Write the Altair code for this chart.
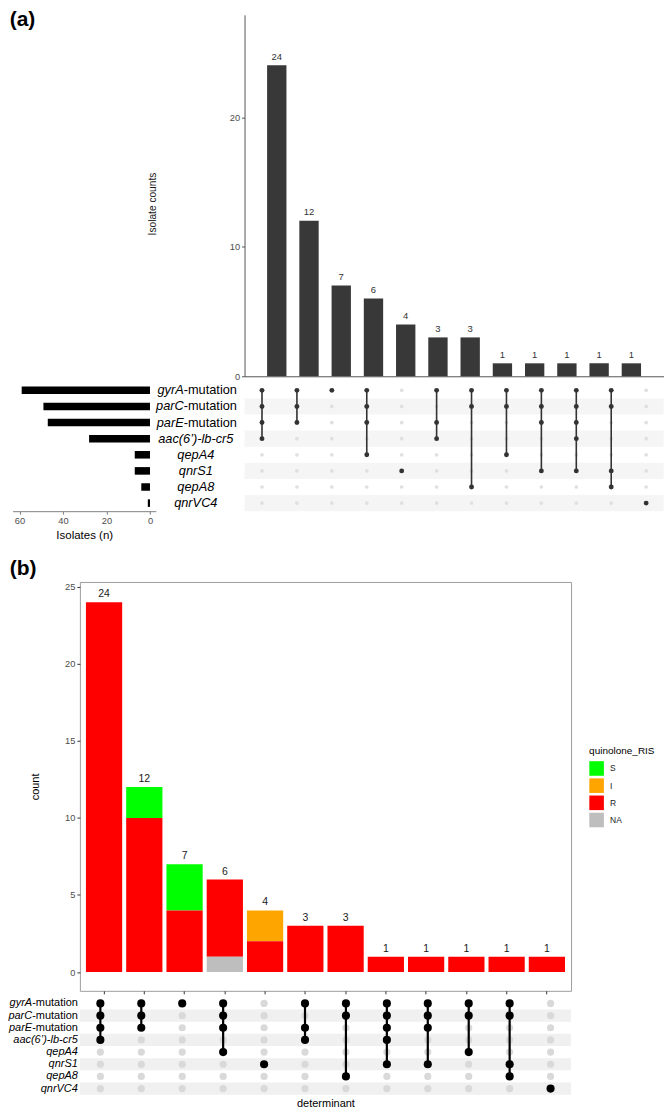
import altair as alt
import pandas as pd

# ---------------- data ----------------
GENES = ["gyrA-mutation", "parC-mutation", "parE-mutation", "aac(6’)-lb-cr5",
         "qepA4", "qnrS1", "qepA8", "qnrVC4"]
GENE_ITALIC = ["gyrA", "parC", "parE", "aac(6’)-lb-cr5", "qepA4", "qnrS1", "qepA8", "qnrVC4"]
GENE_SUFFIX = ["-mutation", "-mutation", "-mutation", "", "", "", "", ""]
SET_SIZES = [59, 49, 47, 28, 7, 7, 4, 1]

COLUMNS = ["c01", "c02", "c03", "c04", "c05", "c06", "c07", "c08", "c09", "c10", "c11", "c12"]
A_COUNTS = [24, 12, 7, 6, 4, 3, 3, 1, 1, 1, 1, 1]
A_MEMBERS = [[0, 1, 2, 3], [0, 1, 2], [0], [0, 1, 2, 4], [5], [0, 2, 3], [0, 1, 6],
             [0, 1, 4], [0, 1, 2, 5], [0, 1, 2, 3, 5], [0, 1, 5, 6], [7]]
B_MEMBERS = [[0, 1, 2, 3], [0, 1, 2], [0], [0, 1, 2, 4], [5], [0, 2, 3], [0, 1, 6],
             [0, 1, 2, 3, 5], [0, 1, 2, 5], [0, 1, 4], [0, 1, 5, 6], [7]]

RIS_LEVELS = ["S", "I", "R", "NA"]
RIS_COLORS = ["#00ff00", "#ffa500", "#ff0000", "#bebebe"]
RIS_STACK_ORDER = [3, 2, 1, 0]
B_S = [0, 2, 3, 0, 0, 0, 0, 0, 0, 0, 0, 0]
B_I = [0, 0, 0, 0, 2, 0, 0, 0, 0, 0, 0, 0]
B_R = [24, 10, 4, 5, 2, 3, 3, 1, 1, 1, 1, 1]
B_NA = [0, 0, 0, 1, 0, 0, 0, 0, 0, 0, 0, 0]

PANEL_LABELS = ["(a)", "(b)"]

# ---------------- layout constants (pixels) ----------------
FONT = "Liberation Sans"
WA = 584.6
XA0, XA1 = 164.9, 584.6
H_A1 = 362
H_A2 = 129.1
H_SP = 57.7
WB = 491.9
H_B1 = 409.5
H_B2 = 97.5
GAP = 6
B1_TOP = H_A1 + GAP + H_A2 + GAP + H_SP + GAP

# ---------------- tables ----------------
dfA = pd.DataFrame({"col": COLUMNS, "count": A_COUNTS})


def matrix_df(members):
    rows = []
    for i, c in enumerate(COLUMNS):
        for j, g in enumerate(GENES):
            rows.append({"col": c, "gene": g, "gidx": j, "active": j in members[i]})
    return pd.DataFrame(rows)


mA = matrix_df(A_MEMBERS)
mB = matrix_df(B_MEMBERS)
df_genes = pd.DataFrame({"gene": GENES, "ital": GENE_ITALIC, "suf": GENE_SUFFIX,
                         "size": SET_SIZES, "stripe": [i % 2 == 1 for i in range(len(GENES))]})
df_mut = df_genes[df_genes["suf"] != ""]
df_plain = df_genes[df_genes["suf"] == ""]
df_stripe = df_genes[df_genes["stripe"]]

recs = []
for lvl, vals, o in zip(RIS_LEVELS, [B_S, B_I, B_R, B_NA], RIS_STACK_ORDER):
    for c, v in zip(COLUMNS, vals):
        if v > 0:
            recs.append({"col": c, "RIS": lvl, "n": v, "ord": o})
dfB = pd.DataFrame(recs)
dfB_tot = pd.DataFrame({"col": COLUMNS,
                        "total": [s + i + r + na for s, i, r, na in zip(B_S, B_I, B_R, B_NA)]})

# ---------------- panel (a): bars ----------------
scaleA = alt.Scale(domain=COLUMNS, range=[XA0, XA1], paddingInner=0.4, paddingOuter=0.7)
xA1 = alt.X("col:N", scale=scaleA, sort=COLUMNS,
            axis=alt.Axis(labels=False, ticks=False, title=None, domain=True,
                          domainColor="#555555", domainWidth=1))
yA1 = alt.Y("count:Q", scale=alt.Scale(domain=[0, 27.9], nice=False, zero=True),
            axis=alt.Axis(values=[0, 10, 20], offset=-XA0, title="Isolate counts",
                          titleX=-87, titleY=189, titleFontSize=10.2, titleFontWeight="normal",
                          titleColor="#1a1a1a", labelFontSize=9.3, labelColor="#4d4d4d",
                          tickColor="#555555", tickSize=3, domainColor="#555555", grid=False))
barsA = alt.Chart(dfA).mark_bar(color="#383838").encode(x=xA1, y=yA1)
textA = alt.Chart(dfA).mark_text(dy=-8.5, fontSize=9.5, color="#333333", baseline="middle").encode(
    x=xA1, y=yA1, text="count:Q")
labA = alt.Chart(pd.DataFrame({"lab": [PANEL_LABELS[0]]})).mark_text(
    align="left", baseline="middle", fontSize=21, fontWeight="bold", color="black").encode(
    x=alt.value(-70.3), y=alt.value(5.5), text="lab:N")
A1 = alt.layer(barsA, textA, labA).properties(width=WA, height=H_A1)

# ---------------- panel (a): matrix + set sizes ----------------
yA2 = alt.Y("gene:N", scale=alt.Scale(domain=GENES, paddingInner=0, paddingOuter=0), sort=GENES, axis=None)
xA2 = alt.X("col:N", scale=scaleA, sort=COLUMNS, axis=None)

stripesA = alt.Chart(df_stripe).mark_rect(color="#f5f5f5").encode(
    x=alt.value(XA0), x2=alt.value(XA1), y=yA2)
setbars = alt.Chart(df_genes).mark_bar(color="black", height={"band": 0.47}).encode(
    x=alt.X("size:Q", scale=alt.Scale(domain=[-2.71, 63.18], range=[76.1, -67.4], nice=False, zero=False),
            axis=alt.Axis(orient="bottom", values=[0, 20, 40, 60], title="Isolates (n)",
                          titleFontSize=11.5, titleFontWeight="normal", titleColor="black",
                          titlePadding=4, labelFontSize=9.3, labelColor="#4d4d4d",
                          tickColor="#7f7f7f", tickSize=3, domainColor="#7f7f7f", grid=False)),
    x2=alt.datum(0), y=yA2)
dots_off_A = alt.Chart(mA[~mA["active"]]).mark_circle(color="#e0e0e0", size=14, opacity=1).encode(x=xA2, y=yA2)
lines_A = alt.Chart(mA[mA["active"]]).mark_line(color="#333333", strokeWidth=1.6).encode(
    x=xA2, y=yA2, detail="col:N", order="gidx:Q")
dots_on_A = alt.Chart(mA[mA["active"]]).mark_circle(color="#333333", size=24, opacity=1).encode(x=xA2, y=yA2)
labA_it = alt.Chart(df_mut).mark_text(align="right", baseline="middle", fontSize=12.8,
                                      fontStyle="italic", color="black").encode(
    x=alt.value(104), y=yA2, text="ital:N")
labA_suf = alt.Chart(df_mut).mark_text(align="left", baseline="middle", fontSize=12.8, color="black").encode(
    x=alt.value(104), y=yA2, text="suf:N")
labA_pl = alt.Chart(df_plain).mark_text(align="center", baseline="middle", fontSize=12.8,
                                        fontStyle="italic", color="black").encode(
    x=alt.value(116.1), y=yA2, text="ital:N")
A2 = alt.layer(stripesA, setbars, dots_off_A, lines_A, dots_on_A, labA_it, labA_suf, labA_pl).resolve_scale(
    x="independent").properties(width=WA, height=H_A2)

# ---------------- spacer with panel label (b) ----------------
SP = alt.Chart(pd.DataFrame({"lab": [PANEL_LABELS[1]]})).mark_text(
    align="left", baseline="middle", fontSize=21, fontWeight="bold", color="black").encode(
    x=alt.value(-70.3), y=alt.value(50.8), text="lab:N").properties(width=WB, height=H_SP)

# ---------------- panel (b): stacked bars ----------------
scaleB = alt.Scale(domain=COLUMNS, paddingInner=0.1, paddingOuter=0.15)
xB1 = alt.X("col:N", scale=scaleB, sort=COLUMNS,
            axis=alt.Axis(labels=False, ticks=True, tickSize=3, tickColor="#333333",
                          domain=False, title=None))
yscaleB = alt.Scale(domain=[-1.22, 25.31], nice=False, zero=False)
barsB = alt.Chart(dfB).mark_bar().encode(
    x=xB1,
    y=alt.Y("n:Q", stack="zero", scale=yscaleB,
            axis=alt.Axis(values=[0, 5, 10, 15, 20, 25], title="count", titleX=-39,
                          titleFontSize=11, titleFontWeight="normal", titleColor="black",
                          labelFontSize=9.3, labelColor="#4d4d4d", tickColor="#333333",
                          tickSize=3, domain=False, grid=False)),
    color=alt.Color("RIS:N", scale=alt.Scale(domain=RIS_LEVELS, range=RIS_COLORS),
                    legend=alt.Legend(orient="none", legendX=510, legendY=B1_TOP + 165.5,
                                      title="quinolone_RIS", symbolType="square",
                                      symbolSize=213, symbolStrokeWidth=0, symbolOpacity=1,
                                      rowPadding=2.2, titlePadding=5, labelFontSize=8.5,
                                      titleFontSize=10, titleFontWeight="normal",
                                      titleColor="black", labelColor="#1a1a1a", labelOffset=6)),
    order=alt.Order("ord:Q", sort="ascending"))
totB = alt.Chart(dfB_tot).mark_text(dy=-8, fontSize=10.5, color="#1a1a1a", baseline="middle").encode(
    x=xB1, y=alt.Y("total:Q", scale=yscaleB), text="total:Q")
B1 = alt.layer(barsB, totB).properties(
    width=WB, height=H_B1, view=alt.ViewBackground(stroke="#9e9e9e", strokeWidth=1))

# ---------------- panel (b): matrix ----------------
yB2 = alt.Y("gene:N", scale=alt.Scale(domain=GENES, paddingInner=0, paddingOuter=0), sort=GENES, axis=None)
xB2 = alt.X("col:N", scale=scaleB, sort=COLUMNS,
            axis=alt.Axis(labels=False, ticks=False, domain=False, title="determinant",
                          titleFontSize=11, titleFontWeight="normal", titleColor="black",
                          titlePadding=3))
stripesB = alt.Chart(df_stripe).mark_rect(color="#f0f0f0").encode(
    x=alt.value(0), x2=alt.value(WB), y=yB2)
dots_off_B = alt.Chart(mB[~mB["active"]]).mark_circle(color="#d9d9d9", size=52, opacity=1).encode(x=xB2, y=yB2)
lines_B = alt.Chart(mB[mB["active"]]).mark_line(color="black", strokeWidth=2.2).encode(
    x=xB2, y=yB2, detail="col:N", order="gidx:Q")
dots_on_B = alt.Chart(mB[mB["active"]]).mark_circle(color="black", size=66, opacity=1).encode(x=xB2, y=yB2)
labB_it = alt.Chart(df_mut).mark_text(align="right", baseline="middle", fontSize=11,
                                      fontStyle="italic", color="black").encode(
    x=alt.value(-47.8), y=yB2, text="ital:N")
labB_suf = alt.Chart(df_mut).mark_text(align="right", baseline="middle", fontSize=11, color="black").encode(
    x=alt.value(-2), y=yB2, text="suf:N")
labB_pl = alt.Chart(df_plain).mark_text(align="right", baseline="middle", fontSize=11,
                                        fontStyle="italic", color="black").encode(
    x=alt.value(-2), y=yB2, text="ital:N")
B2 = alt.layer(stripesB, dots_off_B, lines_B, dots_on_B, labB_it, labB_suf, labB_pl).properties(
    width=WB, height=H_B2)

chart = alt.vconcat(A1, A2, SP, B1, B2, spacing=GAP, bounds="flush").properties(
    padding={"left": 0, "top": 0, "right": 0, "bottom": 0}
).configure(font=FONT).configure_view(strokeWidth=0, stroke="transparent")

chart.save("out.html", embed_options={"renderer": "svg", "actions": False})
